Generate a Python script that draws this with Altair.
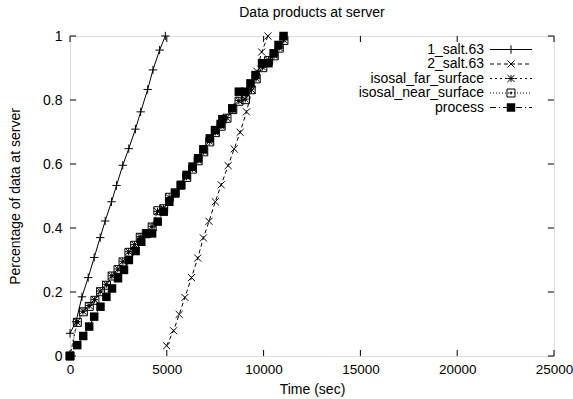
import altair as alt
import pandas as pd

FONT = "Liberation Sans"
FS = 14

# ---------------- data ----------------
title_text = ["Data products at server"]

salt1_t = [0, 309, 617, 941, 1250, 1559, 1816, 2145, 2402, 2726, 3035, 3380, 3652, 4012, 4285, 4630, 4923]
salt1_p = [0.071, 0.107, 0.185, 0.245, 0.308, 0.370, 0.422, 0.482, 0.533, 0.596, 0.648, 0.709, 0.763,
           0.833, 0.894, 0.956, 1.0]

salt2_t = [4990, 5350, 5640, 5935, 6275, 6600, 6890, 7180, 7505, 7810, 8170, 8480, 8790, 9115, 9400,
           9650, 9900, 10225]
salt2_p = [0.032, 0.079, 0.130, 0.183, 0.245, 0.306, 0.369, 0.421, 0.482, 0.535, 0.595, 0.647, 0.699,
           0.763, 0.831, 0.890, 0.950, 1.0]

far_t = [0, 360, 670, 980, 1270, 1560, 1870, 2160, 2470, 2730, 3030, 3330, 3620, 3930, 4230, 4520,
         4830, 5120, 5420, 5720, 6020, 6320, 6610, 6900, 7210, 7500, 7800, 8100, 8400, 8720, 9050,
         9350, 9610, 9950, 10250, 10540, 10800, 11040]
far_p = [0.0, 0.107, 0.140, 0.158, 0.176, 0.203, 0.224, 0.251, 0.272, 0.296, 0.326, 0.348, 0.373,
         0.385, 0.405, 0.452, 0.462, 0.495, 0.512, 0.535, 0.560, 0.586, 0.612, 0.640, 0.671, 0.700,
         0.720, 0.745, 0.772, 0.798, 0.803, 0.834, 0.868, 0.903, 0.925, 0.940, 0.964, 0.988]

near_t = [0, 380, 690, 995, 1285, 1580, 1885, 2175, 2480, 2740, 3045, 3340, 3630, 3940, 4245, 4535,
          4840, 5135, 5435, 5735, 6030, 6330, 6620, 6910, 7220, 7510, 7810, 8110, 8410, 8730, 9060,
          9360, 9620, 9960, 10260, 10550, 10810, 11050]
near_p = [0.0, 0.105, 0.138, 0.155, 0.174, 0.201, 0.221, 0.250, 0.270, 0.294, 0.324, 0.346, 0.371,
          0.382, 0.403, 0.454, 0.460, 0.496, 0.510, 0.534, 0.558, 0.584, 0.610, 0.638, 0.669, 0.698,
          0.718, 0.743, 0.770, 0.796, 0.801, 0.832, 0.866, 0.901, 0.923, 0.938, 0.962, 0.986]

proc_t = [0, 375, 683, 990, 1250, 1575, 1880, 2170, 2480, 2790, 3040, 3390, 3680, 3970, 4240, 4530,
          4840, 5130, 5430, 5730, 6020, 6330, 6620, 6890, 7220, 7490, 7780, 7870, 8380, 8720, 9060,
          9320, 9580, 9920, 10250, 10520, 10770, 11030]
proc_p = [0.0, 0.034, 0.0625, 0.092, 0.123, 0.154, 0.185, 0.211, 0.243, 0.269, 0.300, 0.328, 0.357,
          0.383, 0.383, 0.420, 0.451, 0.482, 0.508, 0.534, 0.566, 0.592, 0.618, 0.646, 0.680, 0.706,
          0.725, 0.740, 0.774, 0.826, 0.826, 0.852, 0.878, 0.915, 0.915, 0.946, 0.972, 1.0]

series_names = ["1_salt.63", "2_salt.63", "isosal_far_surface", "isosal_near_surface", "process"]

x_ticks = [0, 5000, 10000, 15000, 20000, 25000]
y_ticks = [0, 0.2, 0.4, 0.6, 0.8, 1.0]

# ---------------- styling ----------------
W, H = 484, 320
PLUS = "M-1,0L1,0M0,-1L0,1"
CROSS = "M-1,-1L1,1M-1,1L1,-1"
STAR = PLUS + CROSS
BOXDOT = "M-1,-1L1,-1L1,1L-1,1Z M-0.2,-0.2L0.2,-0.2L0.2,0.2L-0.2,0.2Z"

styles = {
    "1_salt.63": dict(dash=None, shape=PLUS, filled=False, size=70),
    "2_salt.63": dict(dash=[4, 3], shape=CROSS, filled=False, size=50),
    "isosal_far_surface": dict(dash=[2, 3], shape=STAR, filled=False, size=50),
    "isosal_near_surface": dict(dash=[1, 2], shape=BOXDOT, filled=False, size=64),
    "process": dict(dash=[6, 3, 1, 3], shape="square", filled=True, size=72),
}
data_map = {
    "1_salt.63": (salt1_t, salt1_p),
    "2_salt.63": (salt2_t, salt2_p),
    "isosal_far_surface": (far_t, far_p),
    "isosal_near_surface": (near_t, near_p),
    "process": (proc_t, proc_p),
}

xscale = alt.Scale(domain=[0, 25000], nice=False, zero=False)
yscale = alt.Scale(domain=[0, 1], nice=False, zero=False)

xaxis = alt.Axis(values=x_ticks, format="d", ticks=False, domain=False, grid=False,
                 labelPadding=6, labelFontSize=13.5, labelFont=FONT, labelColor="black",
                 title="Time (sec)", titleFontSize=FS, titleFont=FONT, titleFontWeight="normal",
                 titleColor="black", titleX=W / 2, titleY=33, titleBaseline="middle",
                 labelFlush=False, labelOverlap=False)
yaxis = alt.Axis(values=y_ticks, format="~g", ticks=False, domain=False, grid=False,
                 labelPadding=8, labelFontSize=FS, labelFont=FONT, labelColor="black",
                 title="Percentage of data at server", titleFontSize=FS, titleFont=FONT,
                 titleFontWeight="normal", titleColor="black", titleX=-55, titleY=H / 2,
                 titleAngle=270, titleBaseline="middle", labelFlush=False, labelOverlap=False)

X = lambda: alt.X("t:Q", scale=xscale, axis=xaxis)
Y = lambda: alt.Y("p:Q", scale=yscale, axis=yaxis)

layers = []
for name in series_names:
    t, p = data_map[name]
    st = styles[name]
    df = pd.DataFrame({"t": t, "p": p})
    base = alt.Chart(df).encode(x=X(), y=Y())
    lkw = dict(color="black", strokeWidth=1)
    if st["dash"]:
        lkw["strokeDash"] = st["dash"]
    layers.append(base.mark_line(**lkw))
    layers.append(base.mark_point(shape=st["shape"], filled=st["filled"], size=st["size"],
                                  color="black", strokeWidth=1, opacity=1))

# mirrored inward ticks
xt = pd.DataFrame({"t": x_ticks})
yt = pd.DataFrame({"p": y_ticks})
layers.append(alt.Chart(xt).mark_rule(color="black", strokeWidth=1).encode(
    x=X(), y=alt.value(H), y2=alt.value(H - 6)))
layers.append(alt.Chart(xt).mark_rule(color="black", strokeWidth=1).encode(
    x=X(), y=alt.value(0), y2=alt.value(6)))
layers.append(alt.Chart(yt).mark_rule(color="black", strokeWidth=1).encode(
    y=Y(), x=alt.value(0), x2=alt.value(6)))
layers.append(alt.Chart(yt).mark_rule(color="black", strokeWidth=1).encode(
    y=Y(), x=alt.value(W), x2=alt.value(W - 6)))

# gnuplot-style key (label, line sample, marker)
rows_y = [13.5, 28, 42.5, 57, 71.5]
KX = W - 70
for name, ry in zip(series_names, rows_y):
    st = styles[name]
    ld = pd.DataFrame({"label": [name]})
    layers.append(alt.Chart(ld).mark_text(align="right", baseline="middle", fontSize=FS,
                                          font=FONT, color="black").encode(
        text="label:N", x=alt.value(KX), y=alt.value(ry)))
    rkw = dict(color="black", strokeWidth=1)
    if st["dash"]:
        rkw["strokeDash"] = st["dash"]
    layers.append(alt.Chart(ld).mark_rule(**rkw).encode(
        x=alt.value(KX + 6), x2=alt.value(KX + 48), y=alt.value(ry)))
    layers.append(alt.Chart(ld).mark_point(shape=st["shape"], filled=st["filled"], size=st["size"],
                                           color="black", strokeWidth=1, opacity=1).encode(
        x=alt.value(KX + 27), y=alt.value(ry)))

# chart title as a text mark above the plot area
td = pd.DataFrame({"label": title_text})
layers.append(alt.Chart(td).mark_text(align="center", baseline="middle", fontSize=FS,
                                      font=FONT, color="black").encode(
    text="label:N", x=alt.value(W / 2), y=alt.value(-23)))

chart = alt.layer(*layers).properties(
    width=W, height=H,
    autosize=alt.AutoSizeParams(type="none"),
    padding={"left": 70, "top": 36, "right": 573 - 70 - W, "bottom": 43},
).configure_view(stroke="black", strokeWidth=1).configure(background="white")

chart.save("out.html", embed_options={"renderer": "svg", "actions": False})
